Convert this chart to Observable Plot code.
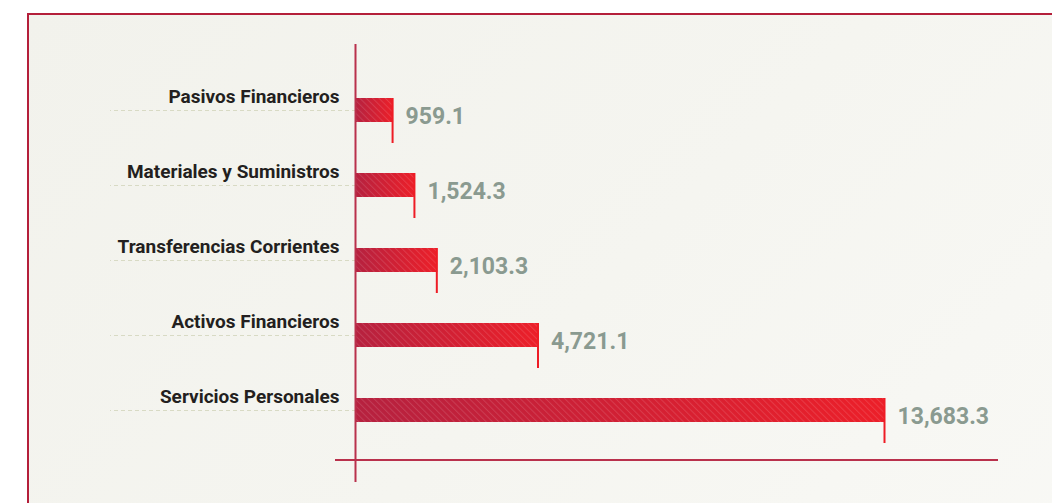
<!DOCTYPE html>
<html>
<head>
<meta charset="utf-8">
<script src="https://cdn.jsdelivr.net/npm/d3@7"></script>
<script src="https://cdn.jsdelivr.net/npm/@observablehq/plot@0.6"></script>
<style>
  html, body { margin: 0; padding: 0; background: #ffffff; }
  #wrap { position: relative; width: 1052px; height: 503px; overflow: hidden; }
  #frame { position: absolute; left: 27px; top: 13px; width: 1100px; height: 600px;
    border: 2.5px solid #b41f3a; box-sizing: border-box;
    background: linear-gradient(135deg, #f2f2ec 0%, #f5f5f0 50%, #f9f9f6 100%); }
  #chart { position: absolute; left: 0; top: 0; }
</style>
</head>
<body>
<div id="wrap"><div id="frame"></div><div id="chart"></div></div>
<script>
const categories = ["Pasivos Financieros", "Materiales y Suministros", "Transferencias Corrientes", "Activos Financieros", "Servicios Personales"];
const values = [959.1, 1524.3, 2103.3, 4721.1, 13683.3];

const data = categories.map((c, i) => ({category: c, value: values[i]}));
const fmt = d3.format(",.1f");
const labelFont = "Roboto, 'Noto Sans', sans-serif";

const W = 1052, H = 503, mL = 356, mR = 167, mT = 72.5, mB = 55.5;

const plot = Plot.plot({
  width: W, height: H,
  marginLeft: mL, marginRight: mR, marginTop: mT, marginBottom: mB,
  style: {background: "transparent", overflow: "visible"},
  x: {domain: [0, d3.max(values)], axis: null},
  y: {domain: categories, paddingInner: 0.68, paddingOuter: 0.34, axis: null},
  marks: [
    Plot.axisY({anchor: "left", tickSize: 246, tickFormat: () => "", stroke: "#d8dac4", strokeDasharray: "4,3", strokeWidth: 1, label: null}),
    Plot.barX(data, {y: "category", x: "value", fill: "url(#barGrad)"}),
    Plot.barX(data, {y: "category", x: "value", fill: "url(#hatch)"}),
    Plot.tickX(data, {y: "category", x: "value", dx: -1, insetBottom: -21, stroke: "#ee1c25", strokeWidth: 2}),
    Plot.ruleX([0], {dx: -1, insetTop: -28.5, insetBottom: -34.5, stroke: "#b9314c", strokeWidth: 2}),
    Plot.text(data, {y: "category", text: "category", frameAnchor: "left", textAnchor: "end", lineAnchor: "bottom", dx: -17, dy: -8,
      fontFamily: labelFont, fontWeight: "bold", fontSize: 19, fill: "#231f20"}),
    Plot.text(data, {y: "category", x: "value", text: d => fmt(d.value), textAnchor: "start", lineAnchor: "middle", dx: 12, dy: 6,
      fontFamily: labelFont, fontWeight: "bold", fontSize: 23, fill: "#8a9a90"})
  ]
});

// gradient and hatch definitions
const defs = d3.create("svg:defs");
const grad = defs.append("linearGradient").attr("id", "barGrad").attr("x1", 0).attr("x2", 1).attr("y1", 0).attr("y2", 0);
grad.append("stop").attr("offset", 0).attr("stop-color", "#b6213f");
grad.append("stop").attr("offset", 1).attr("stop-color", "#ec1f29");
const pat = defs.append("pattern").attr("id", "hatch").attr("patternUnits", "userSpaceOnUse")
  .attr("width", 4.5).attr("height", 4.5).attr("patternTransform", "rotate(-45)");
pat.append("rect").attr("x", 0).attr("y", 0).attr("width", 1).attr("height", 4.5).attr("fill", "#ffffff").attr("fill-opacity", 0.13);
plot.insertBefore(defs.node(), plot.firstChild);

// horizontal baseline
const xs = plot.scale("x");
d3.select(plot).append("line")
  .attr("x1", xs.apply(0) - 21).attr("x2", W - 54)
  .attr("y1", H - mB + 12.5).attr("y2", H - mB + 12.5)
  .attr("stroke", "#b9314c").attr("stroke-width", 2);

document.getElementById("chart").append(plot);
</script>
</body>
</html>
